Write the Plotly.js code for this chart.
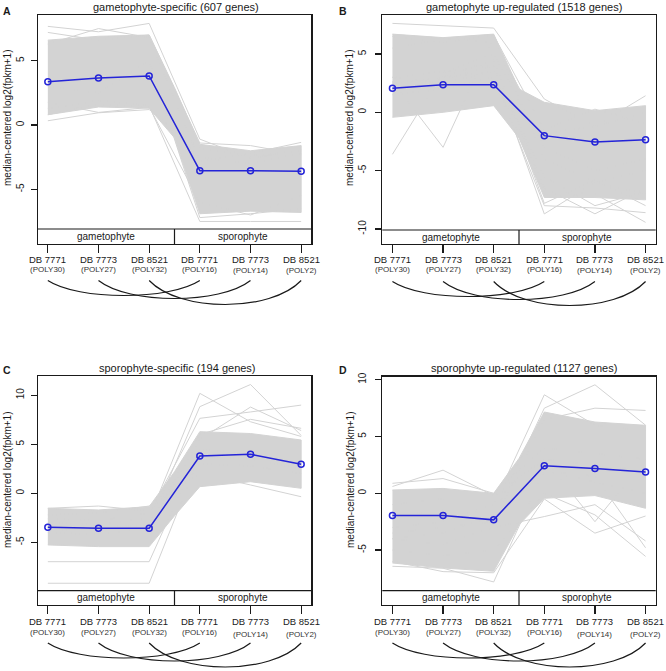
<!DOCTYPE html>
<html><head><meta charset="utf-8">
<script src="https://cdn.plot.ly/plotly-3.0.1.min.js"></script>
<style>html,body{margin:0;padding:0;background:#fff}#chart{width:666px;height:671px}</style>
</head><body><div id="chart"></div>
<script>
// ---------------- data ----------------
const positions = [1, 2, 3, 4, 5, 6];
const envX = [1, 2, 3, 3.5, 4, 5, 6];
const tickDB = ['DB 7771', 'DB 7773', 'DB 8521', 'DB 7771', 'DB 7773', 'DB 8521'];
const tickPoly = ['(POLY30)', '(POLY27)', '(POLY32)', '(POLY16)', '(POLY14)', '(POLY2)'];
const groupNames = ['gametophyte', 'sporophyte'];
const groupCenters = [2.15, 4.85];
const panelTitles = ['gametophyte-specific (607 genes)', 'gametophyte up-regulated (1518 genes)',
                     'sporophyte-specific (194 genes)', 'sporophyte up-regulated (1127 genes)'];
const panelLetters = ['A', 'B', 'C', 'D'];
const yTitle = 'median-centered log2(fpkm+1)';
const pairs = [[1, 4], [2, 5], [3, 6]];

const medianA = [3.37, 3.65, 3.81, -3.55, -3.56, -3.6];
const medianB = [2.06, 2.37, 2.37, -2.0, -2.55, -2.35];
const medianC = [-3.47, -3.57, -3.57, 3.81, 3.98, 2.96];
const medianD = [-1.96, -1.96, -2.34, 2.42, 2.19, 1.87];

const bandHiA = [6.6, 6.9, 7.0, 2.9, -1.5, -2.0, -1.6];
const bandLoA = [0.8, 1.4, 1.3, -1.0, -6.9, -6.7, -6.8];
const bandHiB = [6.7, 6.4, 6.7, 2.0, 0.86, 0.14, 0.57];
const bandLoB = [-0.43, 0.0, 0.57, -2.2, -7.3, -7.3, -7.5];
const bandHiC = [-1.53, -1.7, -1.36, 2.2, 6.29, 6.1, 5.44];
const bandLoC = [-5.27, -5.44, -5.44, -2.3, 0.68, 1.18, 0.51];
const bandHiD = [0.29, 0.43, 0.0, 3.07, 7.16, 6.28, 5.99];
const bandLoD = [-6.14, -6.58, -6.87, -2.78, -0.44, -0.2, -1.32];

const linesA = [
  [7.67, 7.25, 7.9, -1.1, -2.6, -1.9],
  [7.2, 6.6, 7.0, -1.4, -1.6, -2.3],
  [6.3, 7.5, 6.8, -2.8, -2.2, -1.35],
  [0.33, 0.95, 1.2, -1.8, -2.4, -2.0],
  [1.76, 0.98, 1.37, -2.5, -3.0, -2.2],
  [1.3, 1.9, 1.5, -7.5, -7.5, -7.5],
  [3.0, 2.5, 5.0, -7.2, -6.9, -6.5],
  [0.8, 1.6, 1.4, -6.0, -7.0, -5.5]
];
const linesB = [
  [-3.6, 3.4, 5.0, -3.0, -5.0, -4.0],
  [2.65, -3.0, 6.4, -4.0, -6.0, -5.0],
  [7.62, 7.45, 7.22, 1.14, -1.2, 0.0],
  [6.5, 6.0, 6.6, -1.5, 0.27, -1.0],
  [5.5, 6.3, 6.0, -1.8, -1.2, 1.42],
  [3.0, 2.5, 3.5, -8.71, -6.0, -7.0],
  [2.0, 2.8, 4.0, -6.5, -8.7, -6.5],
  [2.5, 3.0, 4.5, -6.8, -7.0, -9.43],
  [1.5, 2.0, 3.0, -8.0, -8.2, -8.6],
  [3.0, 3.5, 4.0, -7.8, -5.8, -8.0],
  [2.5, 3.0, 3.5, -5.5, -8.0, -6.8]
];
const linesC = [
  [-3.0, -3.2, -2.5, 10.2, 7.3, 5.8],
  [-3.5, -3.4, -3.2, 8.84, 11.1, 5.9],
  [-2.6, -2.8, -2.0, 7.65, 8.3, 9.0],
  [-4.0, -4.2, -3.5, 5.5, 8.8, 6.4],
  [-3.8, -3.6, -3.2, 6.0, 7.55, 6.63],
  [-6.98, -6.98, -6.98, 4.5, 4.0, 3.0],
  [-9.18, -9.18, -9.18, 3.8, 3.5, 2.5],
  [-2.2, -2.0, -1.3, 2.0, 0.85, -0.35],
  [-1.53, -1.3, -1.8, 3.0, 2.8, 2.0]
];
const linesD = [
  [0.6, 2.04, -0.2, 3.0, 2.5, 2.0],
  [0.88, 1.3, 0.0, 4.0, 3.5, 3.0],
  [-3.0, -2.5, -1.0, 8.68, 6.0, 5.5],
  [-4.0, -3.5, -2.0, 7.5, 9.56, 6.0],
  [-3.5, -3.0, -2.5, 6.5, 7.5, 7.3],
  [-6.43, -6.6, -7.81, 2.0, 1.0, 0.0],
  [-6.0, -6.9, -7.0, -0.5, -3.51, -2.0],
  [-5.0, -5.5, -5.0, 0.0, -1.9, -5.56],
  [-4.0, -4.5, -3.0, -2.05, -1.0, -4.2],
  [-1.0, -0.5, -0.5, 3.0, -2.5, 3.0],
  [-2.0, -1.5, -1.5, 2.0, 1.5, -4.8]
];

const yTicksA = [-5, 0, 5];
const yTicksB = [-10, -5, 0, 5];
const yTicksC = [-5, 0, 5, 10];
const yTicksD = [-5, 0, 5, 10];

// ---------------- geometry / style ----------------
const W = 666, H = 671;
const FONT = 'Liberation Sans, Arial, Helvetica, sans-serif';
const GRAY = '#d3d3d3', BLUE = '#2424d8', INK = '#1a1a1a';
const px = v => v / W;
const py = v => 1 - v / H;

const panels = [
  {med: medianA, hi: bandHiA, lo: bandLoA, lines: linesA, ticks: yTicksA, yr: [-9.253, 8.554],
   x0: 37.7, x1: 311.3, top: 15, split: 229, bot: 244, titleX: 176, titleY: 7.5, letX: 7, letY: 11,
   ytX: 8, ytY: 118, dbY: 259, polyY: 269.5, arcY: 280.5, stand: 3},
  {med: medianB, hi: bandHiB, lo: bandLoB, lines: linesB, ticks: yTicksB, yr: [-11.285, 8.338],
   x0: 382.3, x1: 655.7, top: 15, split: 230, bot: 244, titleX: 524, titleY: 7.5, letX: 343, letY: 11,
   ytX: 350, ytY: 118, dbY: 259, polyY: 269.5, arcY: 281.5, stand: 5},
  {med: medianC, hi: bandHiC, lo: bandLoC, lines: linesC, ticks: yTicksC, yr: [-11.398, 11.969],
   x0: 37.7, x1: 311.3, top: 376, split: 590.7, bot: 605, titleX: 177, titleY: 367.5, letX: 7, letY: 370,
   ytX: 7, ytY: 480, dbY: 621.7, polyY: 632.7, arcY: 643, stand: 3},
  {med: medianD, hi: bandHiD, lo: bandLoD, lines: linesD, ticks: yTicksD, yr: [-9.84, 10.29],
   x0: 382.3, x1: 655.7, top: 376.5, split: 590.7, bot: 605, titleX: 524, titleY: 367.5, letX: 342.5, letY: 370,
   ytX: 350, ytY: 480, dbY: 621.7, polyY: 632.7, arcY: 643, stand: 5}
];
const arcDepth = [15, 18, 24];

const traces = [];
const shapes = [];
const annotations = [];
const layout = {
  width: W, height: H, margin: {l: 0, r: 0, t: 0, b: 0},
  paper_bgcolor: '#fff', plot_bgcolor: '#fff', showlegend: false,
  font: {family: FONT, color: INK}
};

panels.forEach((p, i) => {
  const n = i + 1;
  const xa = n === 1 ? 'x' : 'x' + n;
  const ya = n === 1 ? 'y' : 'y' + n;
  const xKey = n === 1 ? 'xaxis' : 'xaxis' + n;
  const yKey = n === 1 ? 'yaxis' : 'yaxis' + n;

  // dense band (silhouette of the gene profiles)
  traces.push({
    x: envX.concat(envX.slice().reverse()),
    y: p.hi.concat(p.lo.slice().reverse()),
    xaxis: xa, yaxis: ya, type: 'scatter', mode: 'lines',
    fill: 'toself', fillcolor: GRAY, line: {color: GRAY, width: 1},
    hoverinfo: 'skip'
  });
  // individual profiles
  const lx = [], ly = [];
  p.lines.forEach(arr => { positions.forEach((xv, k) => { lx.push(xv); ly.push(arr[k]); }); lx.push(null); ly.push(null); });
  traces.push({x: lx, y: ly, xaxis: xa, yaxis: ya, type: 'scatter', mode: 'lines',
    line: {color: GRAY, width: 1}, connectgaps: false, hoverinfo: 'skip'});
  // median
  traces.push({x: positions, y: p.med, xaxis: xa, yaxis: ya, type: 'scatter', mode: 'lines+markers',
    line: {color: BLUE, width: 1.5},
    marker: {symbol: 'circle-open', size: 6, color: BLUE, line: {width: 1.5, color: BLUE}}});

  layout[xKey] = {
    domain: [px(p.x0), px(p.x1)], range: [0.8, 6.2], anchor: ya,
    showgrid: false, zeroline: false, showline: true, mirror: true, linecolor: INK, linewidth: 1.2,
    tickvals: positions, ticks: 'outside', ticklen: 8, tickwidth: 1.2, tickcolor: INK,
    showticklabels: false, fixedrange: true
  };
  layout[yKey] = {
    domain: [py(p.bot), py(p.top)], range: p.yr, anchor: xa,
    showgrid: false, zeroline: false, showline: true, mirror: true, linecolor: INK, linewidth: 1.2,
    tickvals: p.ticks, ticktext: p.ticks.map(String), ticks: 'outside', ticklen: 6, tickwidth: 1.2, tickcolor: INK,
    tickangle: -90, tickfont: {size: 10, family: FONT, color: INK}, ticklabelstandoff: p.stand,
    fixedrange: true
  };

  // group box
  shapes.push({type: 'line', xref: xa + ' domain', yref: 'paper', x0: 0, x1: 1, y0: py(p.split), y1: py(p.split),
    line: {color: INK, width: 1.2}});
  shapes.push({type: 'line', xref: xa, yref: 'paper', x0: 3.5, x1: 3.5, y0: py(p.split), y1: py(p.bot),
    line: {color: INK, width: 1.2}});
  groupNames.forEach((g, k) => annotations.push({
    text: g, xref: xa, yref: 'paper', x: groupCenters[k], y: py((p.split + p.bot) / 2),
    xanchor: 'center', yanchor: 'middle', showarrow: false, font: {size: 10, family: FONT, color: INK}
  }));

  // x labels
  positions.forEach((xv, k) => {
    annotations.push({text: tickDB[k], xref: xa, yref: 'paper', x: xv, y: py(p.dbY),
      xanchor: 'center', yanchor: 'middle', showarrow: false, font: {size: 9.5, family: FONT, color: INK}});
    annotations.push({text: tickPoly[k], xref: xa, yref: 'paper', x: xv, y: py(p.polyY + (k >= 4 ? 1.3 : 0)),
      xanchor: 'center', yanchor: 'middle', showarrow: false, font: {size: 8, family: FONT, color: '#333'}});
  });

  // arcs linking the same accession across phases
  pairs.forEach(([a, b], k) => {
    const d = arcDepth[k];
    const w = b - a;
    const y0 = py(p.arcY), yc = py(p.arcY + d * 4 / 3);
    shapes.push({type: 'path', xref: xa, yref: 'paper',
      path: `M${a},${y0} C${a + w * 0.2},${yc} ${b - w * 0.2},${yc} ${b},${y0}`,
      line: {color: INK, width: 1.2}});
  });

  // titles
  annotations.push({text: panelTitles[i], xref: 'paper', yref: 'paper', x: px(p.titleX), y: py(p.titleY),
    xanchor: 'center', yanchor: 'middle', showarrow: false, font: {size: 11, family: FONT, color: INK}});
  annotations.push({text: '<b>' + panelLetters[i] + '</b>', xref: 'paper', yref: 'paper', x: px(p.letX), y: py(p.letY),
    xanchor: 'center', yanchor: 'middle', showarrow: false, font: {size: 10.5, family: FONT, color: INK}});
  annotations.push({text: yTitle, xref: 'paper', yref: 'paper', x: px(p.ytX), y: py(p.ytY), textangle: -90,
    xanchor: 'center', yanchor: 'middle', showarrow: false, font: {size: 10, family: FONT, color: INK}});
});

layout.shapes = shapes;
layout.annotations = annotations;

Plotly.newPlot('chart', traces, layout, {displayModeBar: false, staticPlot: true});
</script>
</body></html>
